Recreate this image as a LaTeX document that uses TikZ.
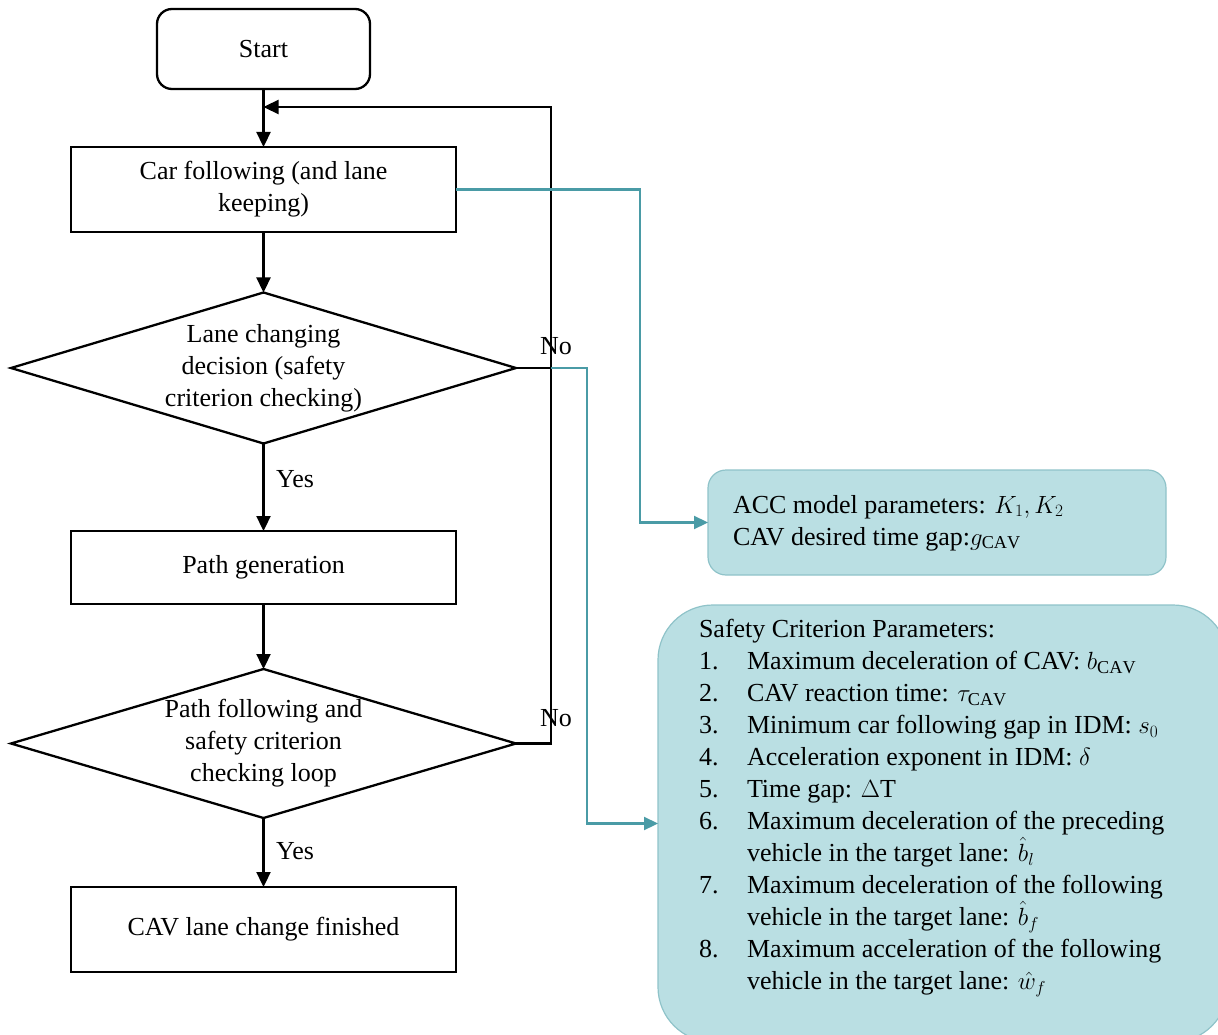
\documentclass[tikz,border=0pt]{standalone}
\usepackage{fontspec}
\setmainfont{Liberation Serif}
\usetikzlibrary{shapes.geometric,arrows.meta}
\definecolor{tealline}{HTML}{4A9BA6}
\definecolor{panelfill}{HTML}{BADFE3}
\definecolor{paneledge}{HTML}{8FC3C9}
\newcommand{\itm}[1]{\makebox[48pt][l]{#1}}
\newcommand{\cont}{\hspace*{48pt}}

\begin{document}
\begin{tikzpicture}[x=1pt,y=-1pt,
  font=\fontsize{26}{32}\selectfont,
  every node/.style={outer sep=0pt},
  flowbox/.style={draw=black, line width=2.3pt, minimum width=385pt, inner sep=0pt, align=center},
  decision/.style={draw=black, line width=2.3pt, shape=diamond, inner sep=0pt,
                   minimum width=505pt},
  panel/.style={draw=paneledge, line width=1.2pt, fill=panelfill},
  flowline/.style={draw=black, line width=2.3pt},
  flowarr/.style={flowline, -{Triangle[length=15pt,width=14pt]}},
  tealarr/.style={draw=tealline, line width=2.2pt, -{Triangle[length=14pt,width=13pt]}},
  lbl/.style={inner sep=0pt}
]
\useasboundingbox (0,0) rectangle (1218,1035);
\clip (0,0) rectangle (1218,1035);

% flow boxes
\node[flowbox, rounded corners=15pt, minimum width=213pt, minimum height=80pt]
  (start) at (263.5,49) {Start};
\node[flowbox, minimum height=85pt] (car) at (263.5,189.5)
  {Car following (and lane\\keeping)};
\node[decision, minimum height=151pt] (d1) at (263.5,368) {};
\node[lbl, align=center] (d1text) at (d1) {Lane changing\\decision (safety\\criterion checking)};
\node[flowbox, minimum height=73pt] (path) at (263.5,567.5) {Path generation};
\node[decision, minimum height=149pt] (d2) at (263.5,743.5) {};
\node[lbl, align=center] (d2text) at (d2) {Path following and\\safety criterion\\checking loop};
\node[flowbox, minimum height=85pt] (done) at (263.5,929.5) {CAV lane change finished};

% parameter panels
\node[panel, rounded corners=18pt, minimum width=458pt, minimum height=105pt]
  (acc) at (937,522.5) {};
\node[lbl, anchor=west, align=left] (acctext) at (733,523)
  {ACC model parameters: $K_1, K_2$\\CAV desired time gap:$g_{\mathrm{CAV}}$};
\node[panel, rounded corners=55pt, minimum width=570pt, minimum height=437pt]
  (safe) at (943,823.5) {};
\node[lbl, anchor=north west, align=left] (safetext) at (699,619)
  {Safety Criterion Parameters:\\
   \itm{1.}Maximum deceleration of CAV: $b_{\mathrm{CAV}}$\\
   \itm{2.}CAV reaction time: $\tau_{\mathrm{CAV}}$\\
   \itm{3.}Minimum car following gap in IDM: $s_0$\\
   \itm{4.}Acceleration exponent in IDM: $\delta$\\
   \itm{5.}Time gap: $\Delta$T\\
   \itm{6.}Maximum deceleration of the preceding\\
   \cont vehicle in the target lane: \smash{$\hat{b}_l$}\\
   \itm{7.}Maximum deceleration of the following\\
   \cont vehicle in the target lane: \smash{$\hat{b}_f$}\\
   \itm{8.}Maximum acceleration of the following\\
   \cont vehicle in the target lane: \smash{$\hat{w}_f$}};

% main flow
\coordinate (loopx) at (551,107);
\coordinate (tealx) at (587,368);
\coordinate (accx) at (640,189.5);
\draw[flowarr] (start) -- (car);
\draw[flowarr] (car) -- (d1);
\draw[flowarr] (d1) -- (path);
\draw[flowarr] (path) -- (d2);
\draw[flowarr] (d2) -- (done);
\draw[flowarr] (d2.east) -| (loopx) -- (start.south |- loopx);
\draw[flowline] (d1.east) -- (d1.east -| loopx);

% parameter links
\draw[tealarr] (d1.east -| loopx) -- (tealx) |- (safe.west);
\draw[tealarr] (car.east) -- (accx) |- (acc.west);

% branch labels
\node[lbl] (yes1) at (295,479) {Yes};
\node[lbl] (yes2) at (295,851) {Yes};
\node[lbl] (no1) at (556,346) {No};
\node[lbl] (no2) at (556,718) {No};
\end{tikzpicture}
\end{document}
